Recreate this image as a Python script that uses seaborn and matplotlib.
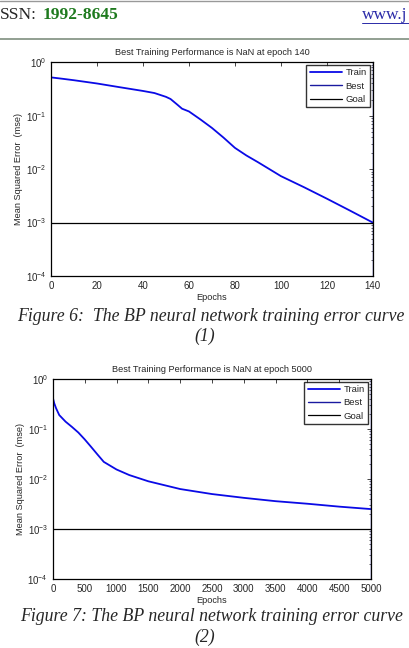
import numpy as np
import seaborn as sns
import matplotlib.pyplot as plt
from matplotlib.lines import Line2D

# figure 6: training run that stops at epoch 140
epochs1 = [0, 5, 10, 20, 30, 40, 45, 50, 52, 55, 57, 60, 65, 70, 75, 80, 85, 90, 95,
           100, 110, 120, 130, 140]
mse1 = [0.52, 0.49, 0.46, 0.40, 0.34, 0.29, 0.265, 0.225, 0.205, 0.16, 0.135, 0.12,
        0.085, 0.059, 0.039, 0.025, 0.018, 0.0135, 0.0100, 0.0074, 0.0046, 0.0028,
        0.00168, 0.00100]

# figure 7: training run that goes to epoch 5000
epochs2 = [0, 20, 50, 100, 200, 300, 400, 500, 600, 700, 800, 1000, 1200, 1500, 2000,
           2500, 3000, 3500, 4000, 4500, 5000]
mse2 = [0.42, 0.33, 0.26, 0.19, 0.14, 0.11, 0.085, 0.062, 0.044, 0.031, 0.022, 0.0155,
        0.0120, 0.0090, 0.0063, 0.0050, 0.0042, 0.0036, 0.0032, 0.0028, 0.0025]

goal = 1e-3
best1 = 140
best2 = 5000
titles = ["Best Training Performance is NaN at epoch 140",
          "Best Training Performance is NaN at epoch 5000"]
xticks1 = [0, 20, 40, 60, 80, 100, 120, 140]
xticks2 = [0, 500, 1000, 1500, 2000, 2500, 3000, 3500, 4000, 4500, 5000]

sns.set_style("white")
plt.rcParams['font.family'] = ['Liberation Sans', 'DejaVu Sans']
plt.rcParams['mathtext.fontset'] = 'custom'
plt.rcParams['mathtext.rm'] = 'Liberation Sans'

fig = plt.figure(figsize=(4.1, 6.48), dpi=100)
ax1 = fig.add_axes([0.1244, 0.574, 0.785, 0.330])
ax2 = fig.add_axes([0.129, 0.1065, 0.776, 0.3086])


def draw(ax, x, y, best, xmax, xticks, title):
    sns.lineplot(x=x, y=y, ax=ax, color='#0a0ae6', lw=1.3, label='Train')
    ax.axvline(best, color='#1a1aa0', lw=1.0, label='Best')
    ax.axhline(goal, color='black', lw=0.9, label='Goal')
    ax.set_yscale('log')
    ax.set_xlim(0, xmax)
    ax.set_ylim(1e-4, 1)
    ax.set_yticks([1e-4, 1e-3, 1e-2, 1e-1, 1])
    ax.set_xticks(xticks)
    ax.tick_params(which='both', direction='in', top=True, right=True,
                   labelsize=7, pad=3.5)
    ax.tick_params(which='major', length=3, width=0.6)
    ax.tick_params(which='minor', length=1.5, width=0.5)
    for s in ax.spines.values():
        s.set_color('black')
        s.set_linewidth(0.9)
    ax.set_title(title, fontsize=6.6, pad=5)
    ax.set_xlabel("Epochs", fontsize=6.6, labelpad=1.5)
    ax.set_ylabel("Mean Squared Error  (mse)", fontsize=6.6, labelpad=2)
    leg = ax.legend(loc='upper right', fontsize=6.8, frameon=True, fancybox=False,
                    edgecolor='black', borderaxespad=0.3, handlelength=3.4,
                    labelspacing=0.45, borderpad=0.35, handletextpad=0.4)
    leg.get_frame().set_linewidth(1.0)
    ax.grid(False)


draw(ax1, epochs1, mse1, best1, 140, xticks1, titles[0])
draw(ax2, epochs2, mse2, best2, 5000, xticks2, titles[1])

# page header
fig.text(0.0, 0.977, "SSN:", family='Liberation Serif', fontsize=12.5,
         ha='left', va='center')
fig.text(0.103, 0.977, "1992-8645", family='Liberation Serif', fontsize=12.5,
         weight='bold', color='#1e7a1e', ha='left', va='center')
fig.text(0.883, 0.977, "www.j", family='Liberation Serif', fontsize=12.5,
         color='#2a2aa8', ha='left', va='center')
fig.add_artist(Line2D([0.883, 1.0], [0.964, 0.964], color='#2a2aa8', lw=0.7))
fig.add_artist(Line2D([0, 1], [0.9985, 0.9985], color='#999999', lw=1.0))
fig.add_artist(Line2D([0, 1], [0.940, 0.940], color='#7f8f7f', lw=1.2))

# captions
cap = dict(family='Liberation Serif', style='italic', fontsize=12.8, ha='center',
           va='center')
fig.text(0.515, 0.512, "Figure 6:  The BP neural network training error curve", **cap)
fig.text(0.50, 0.481, "(1)", **cap)
fig.text(0.515, 0.048, "Figure 7: The BP neural network training error curve", **cap)
fig.text(0.50, 0.016, "(2)", **cap)

fig.savefig("out.png", dpi=100)
